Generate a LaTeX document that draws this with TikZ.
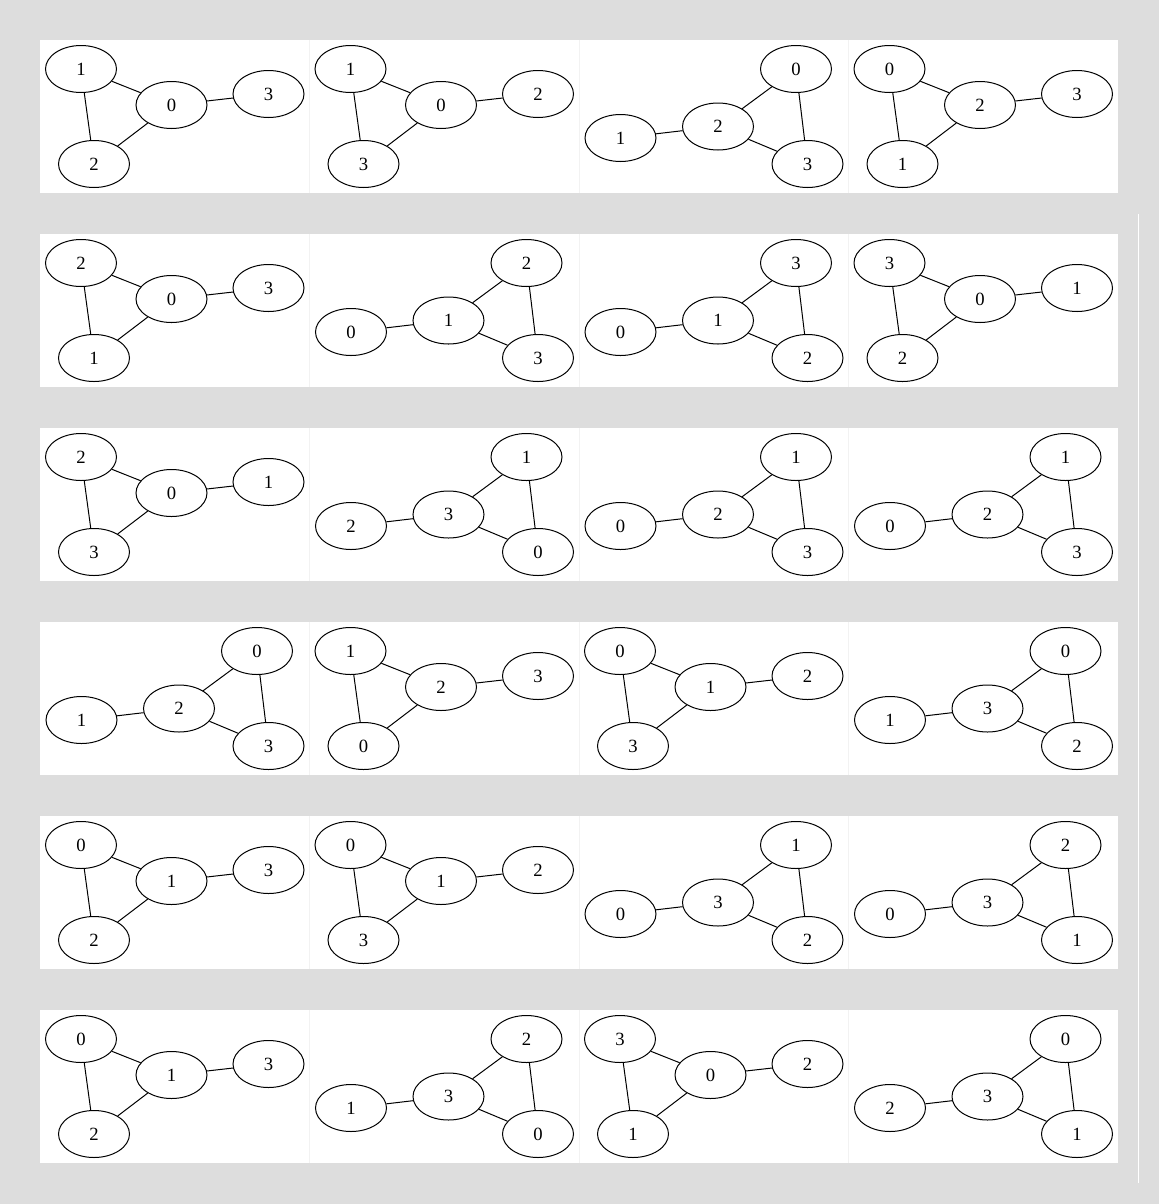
\documentclass[tikz,border=0pt]{standalone}
\usepackage{fontspec}
\setmainfont{Liberation Serif}
\usetikzlibrary{shapes.geometric}
\definecolor{bggray}{HTML}{DDDDDD}
\definecolor{sepgray}{HTML}{F2F2F2}
\tikzset{
  vertex/.style={draw, ellipse, minimum width=53.25pt, minimum height=35.25pt,
    inner sep=0pt, line width=0.75pt, font=\fontsize{14}{16}\selectfont},
  edge/.style={-, line width=0.75pt}
}
% triangle on the left, pendant node on the right
\newcommand{\triLeft}[7]{%
  \draw (#2+41,#3+29) node[vertex] (#1#4){#4}
        (#2+131.5,#3+65) node[vertex] (#1#5){#5}
        (#2+228.5,#3+54) node[vertex] (#1#6){#6}
        (#2+54,#3+124) node[vertex] (#1#7){#7};
  \begin{scope}[edge]
    \draw (#1#4) to (#1#5);
    \draw (#1#4) to (#1#7);
    \draw (#1#5) to (#1#7);
    \draw (#1#5) to (#1#6);
  \end{scope}}
% pendant node on the left, triangle on the right
\newcommand{\triRight}[7]{%
  \draw (#2+41.5,#3+98) node[vertex] (#1#4){#4}
        (#2+139,#3+86.5) node[vertex] (#1#5){#5}
        (#2+217,#3+29) node[vertex] (#1#6){#6}
        (#2+228.5,#3+124) node[vertex] (#1#7){#7};
  \begin{scope}[edge]
    \draw (#1#4) to (#1#5);
    \draw (#1#5) to (#1#6);
    \draw (#1#5) to (#1#7);
    \draw (#1#6) to (#1#7);
  \end{scope}}
\begin{document}
\begin{tikzpicture}[x=0.75pt, y=-0.75pt]
  \fill[bggray] (0,0) rectangle (1159,1204);
  \foreach \y in {40,234,428,622,816,1010} {
    \fill[white] (40,\y) rectangle (1118,\y+153);
    \foreach \x in {309.5,579,848.5}
      \draw[sepgray, line width=0.75pt] (\x,\y) -- (\x,\y+153);
  }
  \draw[white, line width=0.75pt] (1138.5,214) -- (1138.5,1183);
  % row 1
  \triLeft{a}{40}{40}{1}{0}{3}{2}
  \triLeft{b}{309.5}{40}{1}{0}{2}{3}
  \triRight{c}{579}{40}{1}{2}{0}{3}
  \triLeft{d}{848.5}{40}{0}{2}{3}{1}
  % row 2
  \triLeft{e}{40}{234}{2}{0}{3}{1}
  \triRight{f}{309.5}{234}{0}{1}{2}{3}
  \triRight{g}{579}{234}{0}{1}{3}{2}
  \triLeft{h}{848.5}{234}{3}{0}{1}{2}
  % row 3
  \triLeft{i}{40}{428}{2}{0}{1}{3}
  \triRight{j}{309.5}{428}{2}{3}{1}{0}
  \triRight{k}{579}{428}{0}{2}{1}{3}
  \triRight{l}{848.5}{428}{0}{2}{1}{3}
  % row 4
  \triRight{m}{40}{622}{1}{2}{0}{3}
  \triLeft{n}{309.5}{622}{1}{2}{3}{0}
  \triLeft{o}{579}{622}{0}{1}{2}{3}
  \triRight{p}{848.5}{622}{1}{3}{0}{2}
  % row 5
  \triLeft{q}{40}{816}{0}{1}{3}{2}
  \triLeft{r}{309.5}{816}{0}{1}{2}{3}
  \triRight{s}{579}{816}{0}{3}{1}{2}
  \triRight{t}{848.5}{816}{0}{3}{2}{1}
  % row 6
  \triLeft{u}{40}{1010}{0}{1}{3}{2}
  \triRight{v}{309.5}{1010}{1}{3}{2}{0}
  \triLeft{w}{579}{1010}{3}{0}{2}{1}
  \triRight{x}{848.5}{1010}{2}{3}{0}{1}
\end{tikzpicture}
\end{document}
